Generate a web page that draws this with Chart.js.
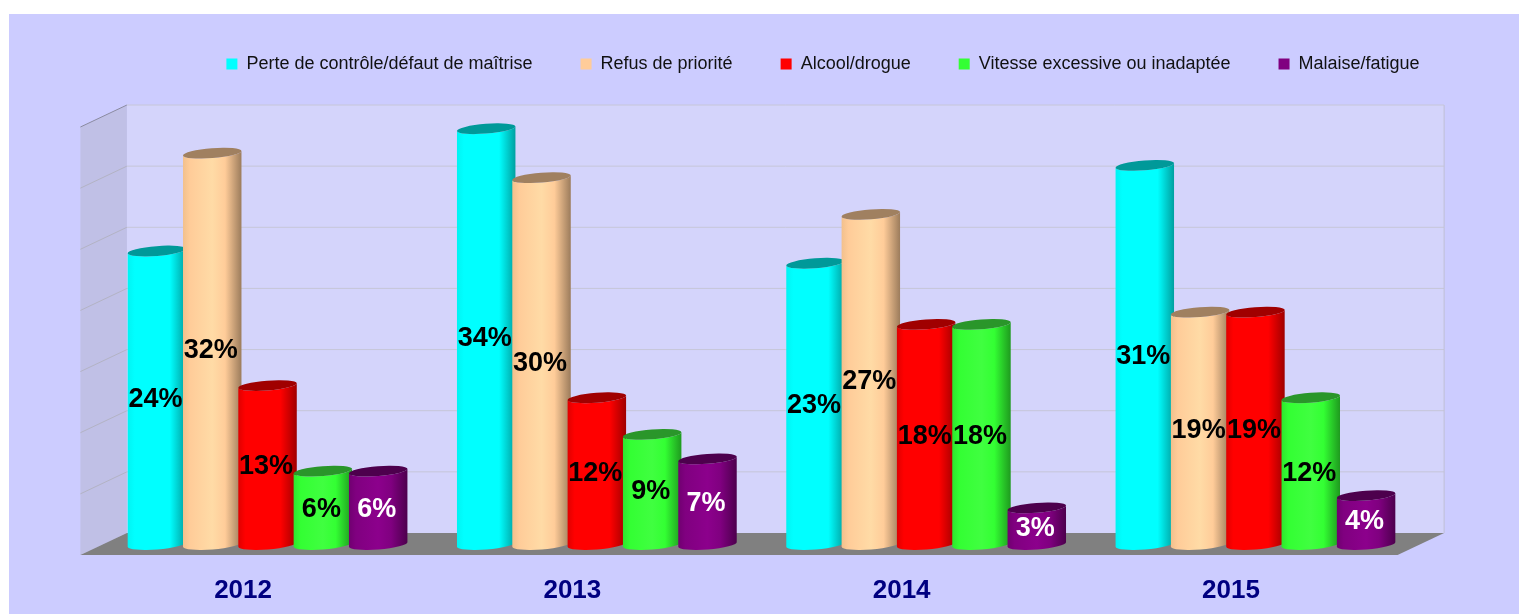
<!DOCTYPE html>
<html>
<head>
<meta charset="utf-8">
<title>Causes par année</title>
<script src="https://cdn.jsdelivr.net/npm/chart.js@4/dist/chart.umd.min.js"></script>
<style>
    html, body { margin: 0; padding: 0; background: #fff; overflow: hidden; }
    #panel { position: absolute; left: 9px; top: 14px; width: 1510px; height: 600px; background: #ccccff; }
    #chart { position: absolute; left: 0; top: 0; }
</style>
</head>
<body>
<div id="panel"></div>
<canvas id="chart" width="1519" height="614"></canvas>
<script>
// Chart data
const years = ['2012', '2013', '2014', '2015'];
const perteControle = [24, 34, 23, 31];
const refusPriorite = [32, 30, 27, 19];
const alcoolDrogue = [13, 12, 18, 19];
const vitesse = [6, 9, 18, 12];
const malaise = [6, 7, 3, 4];

// Colours: face, shading across the cylinder, its top, label
const seriesStyles = [
    { face: '#00ffff', edge: '#00f4f4', light: '#00ffff', dark: '#00a0a0', top: '#009999', text: '#000000' },
    { face: '#ffcc99', edge: '#f2c08c', light: '#ffdba6', dark: '#9c7c5c', top: '#a08060', text: '#000000' },
    { face: '#ff0000', edge: '#e00000', light: '#ff0000', dark: '#a00000', top: '#a00000', text: '#000000' },
    { face: '#33ff33', edge: '#2ee62e', light: '#40ff40', dark: '#1f9a1f', top: '#2a962a', text: '#000000' },
    { face: '#800080', edge: '#700070', light: '#8c008c', dark: '#4d004d', top: '#4d004d', text: '#ffffff' }
];

const FONT = "'Liberation Sans', Arial, sans-serif";
const TILT = -4.5 * Math.PI / 180;  // slant of the cylinder ends
const END_RY = 4.9;                 // minor radius of the cylinder ends

// Room depth around the plot area, in pixels
const FRONT = { dx: -22.5, dy: 10.5 };
const BACK = { dx: 24, dy: -11.5 };

function polygon(ctx, points, fill) {
    ctx.beginPath();
    points.forEach(([x, y], i) => (i ? ctx.lineTo(x, y) : ctx.moveTo(x, y)));
    ctx.closePath();
    ctx.fillStyle = fill;
    ctx.fill();
}

function line(ctx, x1, y1, x2, y2, color) {
    ctx.beginPath();
    ctx.moveTo(x1, y1);
    ctx.lineTo(x2, y2);
    ctx.strokeStyle = color;
    ctx.lineWidth = 1;
    ctx.stroke();
}

// Walls, floor and gridlines of the 3D room
function drawRoom(chart) {
    const { ctx, chartArea: area, scales: { y } } = chart;
    const bottom = y.getPixelForValue(0);
    const top = y.getPixelForValue(35);
    const fl = area.left + FRONT.dx, fr = area.right + FRONT.dx;
    const bl = area.left + BACK.dx, br = area.right + BACK.dx;

    polygon(ctx, [[bl, top + BACK.dy], [br, top + BACK.dy], [br, bottom + BACK.dy], [bl, bottom + BACK.dy]], '#d4d4fb');
    polygon(ctx, [[fl, top + FRONT.dy], [bl, top + BACK.dy], [bl, bottom + BACK.dy], [fl, bottom + FRONT.dy]], '#c0c0e6');
    polygon(ctx, [[fl, bottom + FRONT.dy], [bl, bottom + BACK.dy], [br, bottom + BACK.dy], [fr, bottom + FRONT.dy]], '#808080');

    y.ticks.forEach(tick => {
        if (tick.value === 0) return;
        const p = y.getPixelForValue(tick.value);
        const isTop = tick.value === 35;
        line(ctx, fl, p + FRONT.dy, bl, p + BACK.dy, isTop ? '#8a8aa0' : '#b3b3c4');
        line(ctx, bl, p + BACK.dy, br, p + BACK.dy, '#c6c6d8');
    });
    line(ctx, br, top + BACK.dy, br, bottom + BACK.dy, '#c0c0d4');
}

// One cylinder, positioned from the bar element
function drawCylinder(ctx, bar, style) {
    const a = bar.width / 2;
    const dx = a * Math.cos(TILT);
    const dy = a * Math.sin(TILT);
    const cx = bar.x;
    const left = cx - dx, right = cx + dx;

    const grad = ctx.createLinearGradient(left, 0, right, 0);
    grad.addColorStop(0, style.edge);
    grad.addColorStop(0.12, style.face);
    grad.addColorStop(0.5, style.light);
    grad.addColorStop(0.72, style.face);
    grad.addColorStop(1, style.dark);

    ctx.beginPath();
    ctx.moveTo(left, bar.y - dy);
    ctx.lineTo(left, bar.base - dy);
    ctx.ellipse(cx, bar.base, a, END_RY, TILT, Math.PI, 0, true);
    ctx.lineTo(right, bar.y + dy);
    ctx.ellipse(cx, bar.y, a, END_RY, TILT, 0, Math.PI, false);
    ctx.closePath();
    ctx.fillStyle = grad;
    ctx.fill();

    ctx.beginPath();
    ctx.ellipse(cx, bar.y, a, END_RY, TILT, 0, Math.PI * 2);
    ctx.fillStyle = style.top;
    ctx.fill();
}

// Replaces the flat bars with cylinders, adds the room and the value labels
const cylinderPlugin = {
    id: 'cylinders',
    afterLayout(chart) {
        // legend sits right of centre and above the room in the original
        chart.legend.left += 61.5;
        chart.legend.right += 61.5;
        chart.legend.top = 7;
    },
    beforeDatasetsDraw(chart) {
        drawRoom(chart);
        // left to right, so each cylinder overlaps the one before it
        chart.data.datasets.forEach((dataset, i) => {
            chart.getDatasetMeta(i).data.forEach(bar => drawCylinder(chart.ctx, bar, seriesStyles[i]));
        });
    },
    beforeDatasetDraw() {
        return false;
    },
    afterDatasetsDraw(chart) {
        const { ctx, data } = chart;
        ctx.save();
        ctx.font = 'bold 27px ' + FONT;
        ctx.textAlign = 'center';
        ctx.textBaseline = 'middle';
        data.datasets.forEach((dataset, i) => {
            ctx.fillStyle = seriesStyles[i].text;
            chart.getDatasetMeta(i).data.forEach((bar, j) => {
                ctx.fillText(dataset.data[j] + '%', bar.x - 1.5, (bar.y + bar.base) / 2 + 2);
            });
        });
        ctx.restore();
    }
};

const seriesNames = [
    'Perte de contrôle/défaut de maîtrise',
    'Refus de priorité',
    'Alcool/drogue',
    'Vitesse excessive ou inadaptée',
    'Malaise/fatigue'
];
const seriesValues = [perteControle, refusPriorite, alcoolDrogue, vitesse, malaise];

new Chart(document.getElementById('chart'), {
    type: 'bar',
    plugins: [cylinderPlugin],
    data: {
        labels: years,
        datasets: seriesNames.map((name, i) => ({
            label: name,
            data: seriesValues[i],
            backgroundColor: seriesStyles[i].face,
            borderWidth: 0
        }))
    },
    options: {
        responsive: false,
        animation: false,
        categoryPercentage: 0.84,
        barPercentage: 1.06,
        layout: { padding: { left: 102.9, right: 98.9, top: 40.5, bottom: 0 } },
        plugins: {
            tooltip: { enabled: false },
            legend: {
                position: 'top',
                labels: {
                    boxWidth: 11,
                    boxHeight: 11,
                    padding: 48,
                    color: '#111111',
                    font: { family: FONT, size: 18 }
                }
            }
        },
        scales: {
            x: {
                grid: { display: false },
                border: { display: false },
                afterFit: scale => { scale.height = 69.5; },
                ticks: {
                    color: '#000080',
                    padding: 23,
                    labelOffset: -24.5,
                    maxRotation: 0,
                    font: { family: FONT, size: 26, weight: 'bold' }
                }
            },
            y: {
                display: false,
                min: 0,
                max: 35,
                ticks: { stepSize: 5 }
            }
        }
    }
});
</script>
</body>
</html>
